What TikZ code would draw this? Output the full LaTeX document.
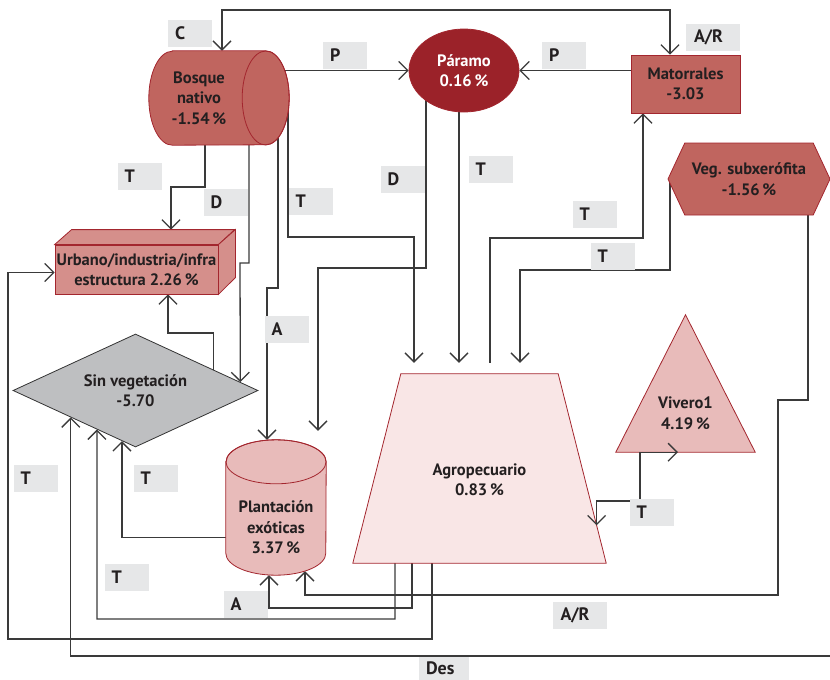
\documentclass[tikz,border=0pt]{standalone}
\usepackage{fontspec}
\setmainfont{PT Sans}
\usetikzlibrary{shapes.geometric,shapes.symbols,arrows.meta,backgrounds,calc}
\pgfdeclarelayer{flows}
\pgfsetlayers{flows,background,main}
\definecolor{txt}{HTML}{231F20}
\definecolor{redline}{HTML}{A3262E}
\definecolor{bosquefill}{HTML}{C0655F}
\definecolor{paramofill}{HTML}{9B2229}
\definecolor{urbfill}{HTML}{D58F8B}
\definecolor{plantfill}{HTML}{E8BBBA}
\definecolor{agrofill}{HTML}{F9E6E6}
\definecolor{sinfill}{HTML}{BEBFC1}
\definecolor{lblfill}{HTML}{E6E7E8}
\definecolor{flowline}{HTML}{3A3A3A}

\begin{document}
\begin{tikzpicture}[x=1pt, y=-1pt, >={Straight Barb[length=9pt,width=18pt]}]
				\tikzstyle{every node}=[font=\fontsize{16.5}{20.5}\selectfont\bfseries, text=txt, align=center, inner sep=0pt]
				\tikzstyle{cover}=[draw=redline, line width=0.8pt]
				\tikzstyle{flow}=[draw=flowline, line width=1.3pt]
				\tikzstyle{lbl}=[fill=lblfill, minimum height=27pt, text width=30pt, inner xsep=7pt, align=left, font=\fontsize{18}{20}\selectfont\bfseries]
				\useasboundingbox (0,0) rectangle (830,680);
				\node[minimum width=140pt, minimum height=94pt, label={[xshift=-20pt]center:{Bosque\\nativo\\-1.54\,\%}}] (bosque) at (219,98) {};
				\node[cover, ellipse, fill=paramofill, text=white, minimum width=110pt, minimum height=83pt] (paramo) at (464,70.5) {Páramo\\0.16\,\%};
				\node[cover, rectangle, fill=bosquefill, minimum width=109pt, minimum height=58pt] (mat) at (685.5,84) {Matorrales\\-3.03};
				\node[cover, signal, signal to=west and east, signal pointer angle=130, fill=bosquefill, minimum width=162pt, minimum height=72pt] (veg) at (749,179) {Veg. subxerófita\\-1.56\,\%};
				\node[cover, fill=urbfill, minimum width=163pt, minimum height=49pt] (urb) at (136.5,269.5) {Urbano/industria/infra\\estructura 2.26\,\%};
				\node[draw=black!80, line width=0.8pt, diamond, aspect=2.17, fill=sinfill, minimum width=245pt, minimum height=113pt] (sinveg) at (135.5,390.5) {Sin vegetación\\-5.70};
				\node[minimum width=100pt, minimum height=135pt, label={[yshift=-20pt]center:{Plantación\\exóticas\\3.37\,\%}}] (plant) at (276,507.5) {};
				\node[minimum width=253pt, minimum height=189pt, label={[yshift=-11pt]center:{Agropecuario\\0.83\,\%}}] (agro) at (479.5,468.5) {};
				\node[minimum width=139pt, minimum height=137pt, label={[yshift=-29.5pt]center:{Vivero1\\4.19\,\%}}] (viv) at (685.5,383.5) {};
				\coordinate (desout) at (830,656);
				\begin{scope}[on background layer]
								\draw[cover, fill=bosquefill] ([xshift=23.5pt]bosque.north west) -- ([xshift=-23.5pt]bosque.north east) arc[start angle=90, end angle=-90, x radius=23.5pt, y radius=47pt] -- ([xshift=23.5pt]bosque.south west) arc[start angle=270, end angle=90, x radius=23.5pt, y radius=47pt] -- cycle;
								\draw[cover] ([xshift=-23.5pt]bosque.east) ellipse[x radius=23.5pt, y radius=47pt];
								\draw[cover, fill=urbfill] (urb.north west) -- ++(17,-15) -- ++(163,0) -- (urb.north east) -- cycle;
								\draw[cover, fill=urbfill] (urb.north east) -- ++(17,-15) -- ++(0,48) -- (urb.south east) -- cycle;
								\draw[cover, fill=plantfill] ([yshift=-22pt]plant.north west) -- ([yshift=22pt]plant.south west) arc[start angle=180, end angle=360, x radius=50pt, y radius=22pt] -- ([yshift=-22pt]plant.north east) arc[start angle=0, end angle=180, x radius=50pt, y radius=22pt] -- cycle;
								\draw[cover] ([yshift=-22pt]plant.north) ellipse[x radius=50pt, y radius=22pt];
								\draw[cover, fill=agrofill] ([xshift=48pt]agro.north west) -- ([xshift=-48pt]agro.north east) -- (agro.south east) -- (agro.south west) -- cycle;
								\draw[cover, fill=plantfill] (viv.north) -- (viv.south east) -- (viv.south west) -- cycle;
				\end{scope}
				\begin{pgfonlayer}{flows}
								\draw[flow, <->] (bosque.north -| 222,0) -- (222,10) -- (670,10) -- (mat.north -| 670,0);
								\draw[flow, ->] (bosque.center |- paramo.west) -- (paramo.west);
								\draw[flow, ->] (mat.west |- paramo.east) -- (paramo.east);
								\draw[flow, ->] (bosque.south -| 205,0) |- (171,187) -- ([yshift=15pt]urb.north -| 171,0);
								\draw[flow, ->] (bosque.south -| 249,0) |- (240,263) -- ($(sinveg.north)!0.853!(sinveg.east)$);
								\draw[flow, ->] (bosque.east -| 278,0) |- (267,288) -- (plant.north -| 267,0);
								\draw[flow, ->] (bosque.east -| 288,0) |- (414,237) -- ([yshift=11pt]agro.north -| 414,0);
								\draw[flow, ->] (paramo.center -| 426,0) |- (318,268) -- ([yshift=9pt]plant.north -| 318,0);
								\draw[flow, ->] (paramo.center -| 459,0) -- ([yshift=11pt]agro.north -| 459,0);
								\draw[flow, ->] ([yshift=11pt]agro.north -| 490,0) |- (643,238) -- (mat.south -| 643,0);
								\draw[flow, ->] (veg.center -| 670,0) |- (520,270) -- ([yshift=11pt]agro.north -| 520,0);
								\draw[flow, ->] (veg.center -| 808,0) -- (808,400) -- (778,400) -- (778,595) -| ([yshift=4pt]plant.south -| 305,0);
								\draw[flow, ->] (agro.south -| 412,0) |- (269,608) -- (plant.south -| 269,0);
								\draw[flow, ->] (agro.south -| 395,0) |- (97,619) -- ($(sinveg.west)!0.686!(sinveg.south)$);
								\draw[flow, ->] (agro.south -| 432,0) |- (8,639) |- ([yshift=-3pt]urb.west);
								\draw[flow, ->] ([yshift=-30pt]plant.west) -| ($(sinveg.west)!0.89!(sinveg.south)$);
								\draw[flow, ->] (desout) -| ($(sinveg.west)!0.4735!(sinveg.south)$);
								\draw[flow, ->] ($(sinveg.north)!0.633!(sinveg.east)$) |- (168,333) -- (urb.south -| 168,0);
				\end{pgfonlayer}
				\draw[flow, <->] ($([xshift=-48pt]agro.north east)!0.8!(agro.south east)$) |- (640,501) |- ([xshift=-7.5pt]viv.south);
				\node[lbl] (lc) at (190,33.5) {C};
				\node[lbl] (lp1) at (345,55.5) {P};
				\node[lbl] (lp2) at (564,55.5) {P};
				\node[lbl, text width=38pt, inner xsep=8pt] (lar1) at (713,37.5) {A/R};
				\node[lbl] (lt1) at (139.5,176) {T};
				\node[lbl] (ld1) at (225.5,202.5) {D};
				\node[lbl] (lt2) at (310.5,201) {T};
				\node[lbl] (ld2) at (402.5,179) {D};
				\node[lbl] (lt3) at (490.5,169.5) {T};
				\node[lbl] (lt4) at (594.5,214.5) {T};
				\node[lbl] (lt5) at (612.5,256.5) {T};
				\node[lbl] (la1) at (286.5,329) {A};
				\node[lbl] (lt6) at (35.5,478) {T};
				\node[lbl] (lt7) at (155.5,478) {T};
				\node[lbl] (lt8) at (126.5,577) {T};
				\node[lbl] (la2) at (245.5,604) {A};
				\node[lbl, text width=38pt, inner xsep=8pt] (lar2) at (579.5,615) {A/R};
				\node[lbl] (lt9) at (651.5,512) {T};
				\node[lbl, text width=36pt, minimum height=23pt] (ldes) at (444,668.5) {Des};
\end{tikzpicture}
\end{document}
